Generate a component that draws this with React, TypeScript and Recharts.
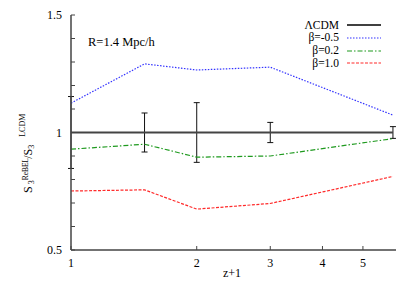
import { LineChart, Line, XAxis, YAxis, ErrorBar, Legend } from "recharts";

// z+1 values where S3 ratio was measured
const zPlus1 = [1, 1.5, 2, 3, 5.9];
const lcdm = [1, 1, 1, 1, 1];
const lcdmErr = [0.153, 0.083, 0.127, 0.043, 0.025];
const betaM05 = [1.125, 1.292, 1.266, 1.278, 1.074];
const beta02 = [0.929, 0.95, 0.895, 0.9, 0.974];
const beta10 = [0.751, 0.756, 0.674, 0.698, 0.813];

const xTicks = [1, 2, 3, 4, 5];
const yTicks = [0.5, 0.6, 0.7, 0.8, 0.9, 1, 1.1, 1.2, 1.3, 1.4, 1.5];
const yLabels = [0.5, 1, 1.5];

const data = zPlus1.map((z, i) => ({
  z,
  lcdm: lcdm[i],
  err: lcdmErr[i],
  bm05: betaM05[i],
  b02: beta02[i],
  b10: beta10[i],
}));

const series = [
  { key: "lcdm", name: "\u039bCDM", color: "#000000", dash: undefined, width: 1.5 },
  { key: "bm05", name: "\u03b2=-0.5", color: "#3333ff", dash: "1.5 1.5", width: 1.2 },
  { key: "b02", name: "\u03b2=0.2", color: "#1f9a1f", dash: "5 2 1.5 2", width: 1.2 },
  { key: "b10", name: "\u03b2=1.0", color: "#ff2a2a", dash: "3 1.5", width: 1.2 },
];

const FONT = "'Liberation Serif', 'Times New Roman', serif";
const AXIS = "#444";

const BottomTick = (p: any) => (
  <g>
    <line x1={p.x} y1={p.y} x2={p.x} y2={p.y - 4} stroke={AXIS} />
    <text x={p.x} y={p.y + 17} textAnchor="middle" fontSize={12} fontFamily={FONT} fill="#000">
      {p.payload.value}
    </text>
  </g>
);
const TopTick = (p: any) => <line x1={p.x} y1={p.y} x2={p.x} y2={p.y + 4} stroke={AXIS} />;
const LeftTick = (p: any) => {
  const v = p.payload.value;
  const major = yLabels.some((l) => Math.abs(l - v) < 1e-6);
  return (
    <g>
      <line x1={p.x} y1={p.y} x2={p.x + 4} y2={p.y} stroke={AXIS} />
      {major && (
        <text x={p.x - 9} y={p.y + 4} textAnchor="end" fontSize={12} fontFamily={FONT} fill="#000">
          {String(v)}
        </text>
      )}
    </g>
  );
};
const RightTick = (p: any) => <line x1={p.x} y1={p.y} x2={p.x - 4} y2={p.y} stroke={AXIS} />;

const LegendBox = () => (
  <div style={{ fontFamily: FONT, fontSize: 11.5, lineHeight: "12.8px", color: "#000" }}>
    {series.map((s) => (
      <div key={s.key} style={{ display: "flex", alignItems: "center", height: 12.8 }}>
        <span style={{ flex: 1, textAlign: "right" }}>{s.name}</span>
        <svg width={44} height={12}>
          <line x1={8} y1={6} x2={42} y2={6} stroke={s.color} strokeWidth={s.width} strokeDasharray={s.dash} />
        </svg>
      </div>
    ))}
  </div>
);

export default function App() {
  return (
    <div style={{ position: "absolute", left: 0, top: 0, width: 415, height: 291, background: "#fff" }}>
      <LineChart width={415} height={291} data={data} margin={{ top: 15, right: 19, bottom: 0, left: 0 }}>
        <XAxis
          dataKey="z"
          type="number"
          scale="log"
          domain={[1, 6]}
          ticks={xTicks}
          allowDataOverflow
          height={41}
          stroke={AXIS}
          strokeWidth={1.5}
          tickSize={0}
          tickMargin={0}
          tick={BottomTick}
          label={{
            content: () => (
              <text x={232} y={277} textAnchor="middle" fontSize={12} fontFamily={FONT} fill="#000">
                z+1
              </text>
            ),
          }}
        />
        <XAxis
          xAxisId="top"
          orientation="top"
          dataKey="z"
          type="number"
          scale="log"
          domain={[1, 6]}
          ticks={xTicks}
          allowDataOverflow
          height={0}
          stroke={AXIS}
          strokeWidth={1.5}
          tickSize={0}
          tickMargin={0}
          tick={TopTick}
        />
        <YAxis
          type="number"
          domain={[0.5, 1.5]}
          ticks={yTicks}
          width={71}
          stroke={AXIS}
          strokeWidth={1.5}
          tickSize={0}
          tickMargin={0}
          tick={LeftTick}
          interval={0}
          label={{
            content: () => (
              <text transform="translate(32,193) rotate(-90)" fontSize={12} fontFamily={FONT} fill="#000">
                S
                <tspan fontSize={8} dx={2} dy={2}>3</tspan>
                <tspan fontSize={7.5} dy={-6}>ReBEL</tspan>
                <tspan fontSize={12} dx={-1} dy={4}>/S</tspan>
                <tspan fontSize={8} dy={2}>3</tspan>
                <tspan fontSize={8} dx={8} dy={-9}>LCDM</tspan>
              </text>
            ),
          }}
        />
        <YAxis
          yAxisId="right"
          orientation="right"
          type="number"
          domain={[0.5, 1.5]}
          ticks={yTicks}
          width={0}
          stroke={AXIS}
          strokeWidth={1.5}
          tickSize={0}
          tickMargin={0}
          tick={RightTick}
          interval={0}
        />
        <Legend
          layout="horizontal"
          align="center"
          verticalAlign="middle"
          content={LegendBox}
          wrapperStyle={{ top: 18.6, left: 233, width: 150, bottom: "auto", right: "auto" }}
        />
        <Line
          dataKey="lcdm"
          name={series[0].name}
          stroke="#444"
          strokeWidth={2}
          dot={false}
          isAnimationActive={false}
        >
          <ErrorBar dataKey="err" direction="y" width={3} stroke="#111" strokeWidth={1} />
        </Line>
        {series.slice(1).map((s) => (
          <Line
            key={s.key}
            dataKey={s.key}
            name={s.name}
            stroke={s.color}
            strokeWidth={s.width}
            strokeDasharray={s.dash}
            dot={false}
            isAnimationActive={false}
          />
        ))}
        <text x={88} y={46} fontSize={12.5} fontFamily={FONT} fill="#000">
          R=1.4 Mpc/h
        </text>
      </LineChart>
    </div>
  );
}
